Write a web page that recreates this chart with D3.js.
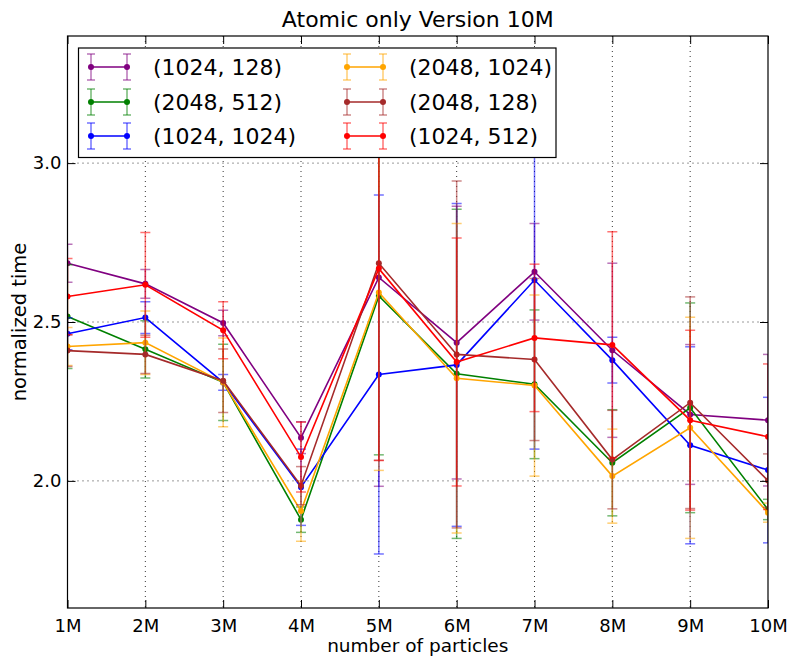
<html>
<head>
  <meta charset="utf-8">
  <title>Atomic only Version 10M</title>
  <script src="https://cdnjs.cloudflare.com/ajax/libs/d3/7.8.5/d3.min.js"></script>
  <style>
    body { margin: 0; background: #fff; }
    text { font-family: "DejaVu Sans", sans-serif; fill: #000; }
  </style>
</head>
<body>
  <svg></svg>
  <script>
var w = 790;
var h = 657;

// data
var xLabels = ["1M", "2M", "3M", "4M", "5M", "6M", "7M", "8M", "9M", "10M"];
var yTicks = [2.0, 2.5, 3.0];
var names = ["(1024, 128)", "(2048, 512)", "(1024, 1024)", "(2048, 1024)", "(2048, 128)", "(1024, 512)"];
var colors = ["#800080", "#008000", "#0000ff", "#ffa500", "#a52a2a", "#ff0000"];

var purpleVals = [2.685, 2.62, 2.497, 2.136, 2.64, 2.435, 2.658, 2.411, 2.209, 2.191];
var purpleErrs = [0.06, 0.045, 0.04, 0.05, 0.657, 0.429, 0.152, 0.274, 0.22, 0.207];
var greenVals = [2.517, 2.414, 2.31, 1.878, 2.582, 2.337, 2.304, 2.057, 2.23, 1.91];
var greenErrs = [0.163, 0.09, 0.12, 0.04, 0.50, 0.518, 0.234, 0.167, 0.33, 0.032];
var blueVals = [2.463, 2.514, 2.31, 1.98, 2.335, 2.365, 2.632, 2.38, 2.112, 2.034];
var blueErrs = [0.05, 0.05, 0.025, 0.12, 0.565, 0.508, 0.532, 0.072, 0.31, 0.229];
var orangeVals = [2.423, 2.435, 2.31, 1.905, 2.593, 2.323, 2.30, 2.015, 2.167, 1.90];
var orangeErrs = [0.06, 0.10, 0.14, 0.095, 0.56, 0.487, 0.285, 0.148, 0.348, 0.03];
var brownVals = [2.41, 2.398, 2.315, 1.985, 2.685, 2.398, 2.382, 2.067, 2.246, 2.001];
var brownErrs = [0.05, 0.06, 0.10, 0.06, 0.62, 0.546, 0.255, 0.155, 0.333, 0.084];
var redVals = [2.58, 2.617, 2.474, 2.075, 2.668, 2.374, 2.45, 2.428, 2.191, 2.139];
var redErrs = [0.12, 0.165, 0.09, 0.11, 0.604, 0.39, 0.232, 0.356, 0.283, 0.229];

var allVals = [purpleVals, greenVals, blueVals, orangeVals, brownVals, redVals];
var allErrs = [purpleErrs, greenErrs, blueErrs, orangeErrs, brownErrs, redErrs];

var series = names.map(function(n, k) {
  return {
    name: n,
    color: colors[k],
    points: xLabels.map(function(l, i) {
      return {i: i + 1, v: allVals[k][i], e: allErrs[k][i]};
    })
  };
});

var svg = d3.select("svg")
  .attr("width", w)
  .attr("height", h);

var margin = {left: 67.5, right: 22, top: 36, bottom: 49};
var figw = w - margin.left - margin.right;
var figh = h - margin.top - margin.bottom;

var x = d3.scaleLinear()
  .domain([1, 10])
  .range([margin.left, margin.left + figw]);

var y = d3.scaleLinear()
  .domain([1.6, 3.4])
  .range([margin.top + figh, margin.top]);

// clip for data
svg.append("clipPath").attr("id", "plotclip")
  .append("rect")
  .attr("x", margin.left).attr("y", margin.top)
  .attr("width", figw).attr("height", figh);

// dotted grid
var grid = svg.append("g");
grid.selectAll("line.gx")
  .data(d3.range(2, 10))
  .enter().append("line")
  .attr("x1", function(d) { return x(d); })
  .attr("x2", function(d) { return x(d); })
  .attr("y1", margin.top).attr("y2", margin.top + figh)
  .attr("stroke", "#000").attr("stroke-width", 0.8)
  .attr("stroke-dasharray", "1,4");
grid.selectAll("line.gy")
  .data(yTicks)
  .enter().append("line")
  .attr("y1", function(d) { return y(d); })
  .attr("y2", function(d) { return y(d); })
  .attr("x1", margin.left).attr("x2", margin.left + figw)
  .attr("stroke", "#000").attr("stroke-width", 0.8)
  .attr("stroke-dasharray", "1,4");

// data
var plot = svg.append("g").attr("clip-path", "url(#plotclip)");
var capw = 5;

series.forEach(function(s) {
  var g = plot.append("g");
  var eb = g.append("g").attr("stroke", s.color).attr("stroke-opacity", 0.55).attr("stroke-width", 1.5);
  eb.selectAll("line.bar")
    .data(s.points).enter().append("line")
    .attr("x1", function(d) { return x(d.i); })
    .attr("x2", function(d) { return x(d.i); })
    .attr("y1", function(d) { return y(d.v - d.e); })
    .attr("y2", function(d) { return y(d.v + d.e); });
  eb.selectAll("line.top")
    .data(s.points).enter().append("line")
    .attr("x1", function(d) { return x(d.i) - capw; })
    .attr("x2", function(d) { return x(d.i) + capw; })
    .attr("y1", function(d) { return y(d.v + d.e); })
    .attr("y2", function(d) { return y(d.v + d.e); });
  eb.selectAll("line.bot")
    .data(s.points).enter().append("line")
    .attr("x1", function(d) { return x(d.i) - capw; })
    .attr("x2", function(d) { return x(d.i) + capw; })
    .attr("y1", function(d) { return y(d.v - d.e); })
    .attr("y2", function(d) { return y(d.v - d.e); });

  g.append("path")
    .datum(s.points)
    .attr("fill", "none")
    .attr("stroke", s.color)
    .attr("stroke-width", 1.6)
    .attr("d", d3.line().x(function(d) { return x(d.i); }).y(function(d) { return y(d.v); }));

  g.selectAll("circle")
    .data(s.points).enter().append("circle")
    .attr("cx", function(d) { return x(d.i); })
    .attr("cy", function(d) { return y(d.v); })
    .attr("r", 3)
    .attr("fill", s.color);
});

// axes, ticks inward on all sides
var tickLen = 8;
var xb = svg.append("g").attr("transform", "translate(0," + (margin.top + figh) + ")")
  .call(d3.axisBottom(x).tickValues(d3.range(1, 11)).tickSizeInner(-tickLen).tickSizeOuter(0)
    .tickPadding(11).tickFormat(function(d) { return xLabels[d - 1]; }));
var xt = svg.append("g").attr("transform", "translate(0," + margin.top + ")")
  .call(d3.axisTop(x).tickValues(d3.range(1, 11)).tickSizeInner(-tickLen).tickSizeOuter(0).tickFormat(""));
var yl = svg.append("g").attr("transform", "translate(" + margin.left + ",0)")
  .call(d3.axisLeft(y).tickValues(yTicks).tickSizeInner(-tickLen).tickSizeOuter(0)
    .tickPadding(6).tickFormat(d3.format(".1f")));
var yr = svg.append("g").attr("transform", "translate(" + (margin.left + figw) + ",0)")
  .call(d3.axisRight(y).tickValues(yTicks).tickSizeInner(-tickLen).tickSizeOuter(0).tickFormat(""));

[xb, xt, yl, yr].forEach(function(a) {
  a.select(".domain").remove();
  a.selectAll("text").attr("font-size", 18).attr("font-family", "DejaVu Sans");
  a.selectAll("line").attr("stroke", "#000");
});

svg.append("rect")
  .attr("x", margin.left).attr("y", margin.top)
  .attr("width", figw).attr("height", figh)
  .attr("fill", "none").attr("stroke", "#000").attr("stroke-width", 1.2);

// labels
svg.append("text")
  .attr("x", margin.left + figw / 2).attr("y", 27)
  .attr("text-anchor", "middle").attr("font-size", 22)
  .text("Atomic only Version 10M");
svg.append("text")
  .attr("x", margin.left + figw / 2).attr("y", 652)
  .attr("text-anchor", "middle").attr("font-size", 18.5)
  .text("number of particles");
svg.append("text")
  .attr("transform", "translate(26," + (margin.top + figh / 2) + ") rotate(-90)")
  .attr("text-anchor", "middle").attr("font-size", 19.5)
  .text("normalized time");

// legend
var leg = svg.append("g");
leg.append("rect")
  .attr("x", 78.5).attr("y", 48).attr("width", 477.5).attr("height", 109.5)
  .attr("fill", "#fff").attr("stroke", "#000").attr("stroke-width", 1.2);

var colX = [91, 347];
var rowY = [67, 102, 136];
series.forEach(function(s, k) {
  var cx = colX[Math.floor(k / 3)];
  var cy = rowY[k % 3];
  var item = leg.append("g").attr("transform", "translate(" + cx + "," + cy + ")");
  var hw = 36;
  item.append("line").attr("x1", 0).attr("x2", hw).attr("y1", 0).attr("y2", 0)
    .attr("stroke", s.color).attr("stroke-width", 1.6);
  [0, hw].forEach(function(px) {
    item.append("line").attr("x1", px).attr("x2", px).attr("y1", -13).attr("y2", 13)
      .attr("stroke", s.color).attr("stroke-opacity", 0.55).attr("stroke-width", 1.5);
    item.append("line").attr("x1", px - 4).attr("x2", px + 4).attr("y1", -13).attr("y2", -13)
      .attr("stroke", s.color).attr("stroke-opacity", 0.55).attr("stroke-width", 1.5);
    item.append("line").attr("x1", px - 4).attr("x2", px + 4).attr("y1", 13).attr("y2", 13)
      .attr("stroke", s.color).attr("stroke-opacity", 0.55).attr("stroke-width", 1.5);
    item.append("circle").attr("cx", px).attr("cy", 0).attr("r", 3).attr("fill", s.color);
  });
  item.append("text").attr("x", 62).attr("y", 8)
    .attr("font-size", 22)
    .text(s.name);
});
  </script>
</body>
</html>
